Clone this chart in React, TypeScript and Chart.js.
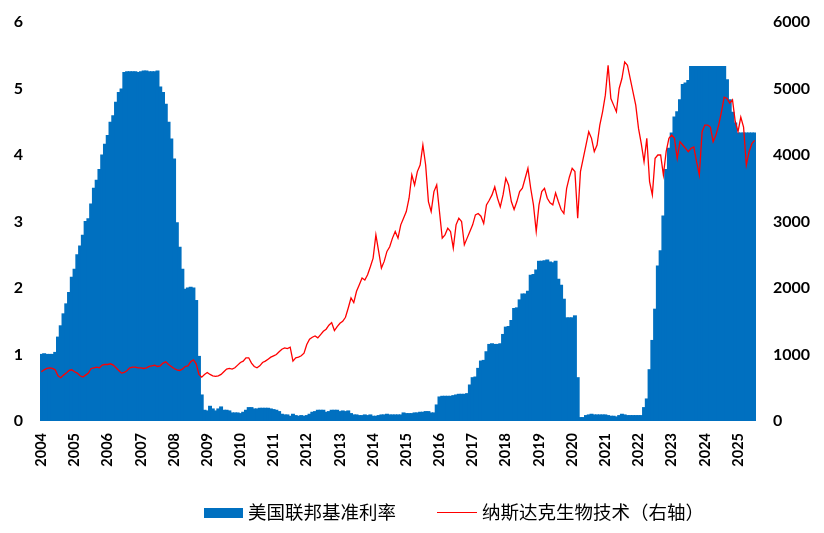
import React, { useEffect, useRef } from "react";
import { Chart, registerables } from "chart.js";

Chart.register(...registerables);

// Year tick labels (one category per month, Jan 2004 .. Jul 2025)
const yearLabels = [
  "2004", "2005", "2006", "2007", "2008", "2009", "2010", "2011", "2012", "2013", "2014",
  "2015", "2016", "2017", "2018", "2019", "2020", "2021", "2022", "2023", "2024", "2025",
];
const monthsInLastYear = 7;

// US federal funds effective rate (%), monthly
const fedFundsRate = [
  // 2004
  1.0, 1.01, 1.0, 1.0, 1.0, 1.03, 1.26, 1.43, 1.61, 1.76, 1.93, 2.16,
  // 2005
  2.28, 2.5, 2.63, 2.79, 3.0, 3.04, 3.26, 3.5, 3.62, 3.78, 4.0, 4.16,
  // 2006
  4.29, 4.49, 4.59, 4.79, 4.94, 4.99, 5.24, 5.25, 5.25, 5.25, 5.25, 5.24,
  // 2007
  5.25, 5.26, 5.26, 5.25, 5.25, 5.25, 5.26, 5.02, 4.94, 4.76, 4.49, 4.24,
  // 2008
  3.94, 2.98, 2.61, 2.28, 1.98, 2.0, 2.01, 2.0, 1.81, 0.97, 0.39, 0.16,
  // 2009
  0.15, 0.22, 0.18, 0.15, 0.18, 0.21, 0.16, 0.16, 0.15, 0.12, 0.12, 0.12,
  // 2010
  0.11, 0.13, 0.16, 0.2, 0.2, 0.18, 0.18, 0.19, 0.19, 0.19, 0.19, 0.18,
  // 2011
  0.17, 0.16, 0.14, 0.1, 0.09, 0.09, 0.07, 0.1, 0.08, 0.07, 0.08, 0.07,
  // 2012
  0.08, 0.1, 0.13, 0.14, 0.16, 0.16, 0.16, 0.13, 0.14, 0.16, 0.16, 0.16,
  // 2013
  0.14, 0.15, 0.14, 0.15, 0.11, 0.09, 0.09, 0.08, 0.08, 0.09, 0.08, 0.09,
  // 2014
  0.07, 0.07, 0.08, 0.09, 0.09, 0.1, 0.09, 0.09, 0.09, 0.09, 0.09, 0.12,
  // 2015
  0.11, 0.11, 0.11, 0.12, 0.12, 0.13, 0.13, 0.14, 0.14, 0.12, 0.12, 0.24,
  // 2016
  0.36, 0.37, 0.37, 0.37, 0.37, 0.38, 0.39, 0.4, 0.4, 0.4, 0.41, 0.54,
  // 2017
  0.65, 0.66, 0.79, 0.9, 0.91, 1.04, 1.15, 1.16, 1.15, 1.15, 1.16, 1.3,
  // 2018
  1.41, 1.42, 1.51, 1.69, 1.7, 1.82, 1.91, 1.91, 1.95, 2.19, 2.2, 2.27,
  // 2019
  2.4, 2.4, 2.41, 2.42, 2.39, 2.38, 2.4, 2.13, 2.04, 1.83, 1.55, 1.55,
  // 2020
  1.55, 1.58, 0.65, 0.05, 0.05, 0.08, 0.09, 0.1, 0.09, 0.09, 0.09, 0.09,
  // 2021
  0.09, 0.08, 0.07, 0.07, 0.06, 0.08, 0.1, 0.09, 0.08, 0.08, 0.08, 0.08,
  // 2022
  0.08, 0.08, 0.2, 0.33, 0.77, 1.21, 1.68, 2.33, 2.56, 3.08, 3.78, 4.1,
  // 2023
  4.33, 4.57, 4.65, 4.83, 5.06, 5.08, 5.12, 5.33, 5.33, 5.33, 5.33, 5.33,
  // 2024
  5.33, 5.33, 5.33, 5.33, 5.33, 5.33, 5.33, 5.33, 5.13, 4.83, 4.64, 4.48,
  // 2025
  4.33, 4.33, 4.33, 4.33, 4.33, 4.33, 4.33,
];

// NASDAQ Biotechnology index, monthly
const nasdaqBiotech = [
  // 2004
  740, 770, 790, 800, 790, 770, 680, 650, 690, 720, 760, 770,
  // 2005
  740, 720, 680, 660, 690, 720, 790, 800, 810, 800, 840, 850,
  // 2006
  850, 860, 840, 800, 760, 720, 730, 760, 800, 810, 810, 800,
  // 2007
  800, 790, 800, 820, 830, 840, 820, 830, 870, 890, 850, 820,
  // 2008
  790, 770, 760, 780, 820, 830, 890, 920, 860, 700, 660, 700,
  // 2009
  730, 700, 680, 670, 680, 700, 740, 780, 790, 780, 800, 840,
  // 2010
  880, 900, 950, 950, 870, 820, 800, 830, 880, 900, 930, 960,
  // 2011
  980, 1000, 1040, 1080, 1100, 1090, 1110, 900, 950, 960, 980, 1020,
  // 2012
  1150, 1230, 1260, 1280, 1250, 1300, 1350, 1380, 1440, 1480, 1360, 1420,
  // 2013
  1470, 1500, 1560, 1700, 1850, 1780, 1950, 2050, 2150, 2120, 2200, 2320,
  // 2014
  2450, 2800, 2550, 2300, 2400, 2550, 2620, 2750, 2850, 2750, 2950, 3050,
  // 2015
  3150, 3350, 3700, 3550, 3750, 3850, 4150, 3850, 3300, 3150, 3450, 3550,
  // 2016
  3150, 2750, 2800, 2900, 2850, 2600, 2950, 3050, 3000, 2650, 2750, 2850,
  // 2017
  2950, 3100, 3120, 3080, 2970, 3250, 3320, 3400, 3520, 3350, 3220, 3400,
  // 2018
  3650, 3550, 3300, 3180, 3300, 3450, 3500, 3650, 3800, 3500, 3250, 2850,
  // 2019
  3250, 3450, 3500, 3350, 3280, 3250, 3430, 3300, 3180, 3120, 3500, 3670,
  // 2020
  3800, 3750, 3050, 3750, 3950, 4150, 4350, 4250, 4050, 4150, 4450, 4650,
  // 2021
  4900, 5350, 4850, 4750, 4650, 5000, 5150, 5400, 5350, 5150, 4950, 4750,
  // 2022
  4400, 4170, 3900, 4250, 3600, 3400, 3950, 4000, 4000, 3700, 4050, 4250,
  // 2023
  4300, 4250, 3950, 4200, 4150, 4100, 4050, 4100, 4120, 3900, 3700, 4350,
  // 2024
  4450, 4450, 4420, 4200, 4300, 4450, 4650, 4870, 4850, 4780, 4830, 4500,
  // 2025
  4350, 4570, 4420, 3850, 4050, 4170, 4220,
];

const rateLabel = "美国联邦基准利率";
const biotechLabel = "纳斯达克生物技术（右轴）";

const monthLabels: string[] = [];
yearLabels.forEach((y, yi) => {
  const n = yi === yearLabels.length - 1 ? monthsInLastYear : 12;
  for (let m = 1; m <= n; m++) monthLabels.push(`${y}-${m < 10 ? "0" + m : m}`);
});

const BLUE = "#0070C0";
const RED = "#FF0000";
const tickFont = { family: "Lato, 'Open Sans', sans-serif", size: 16, weight: "bold" as const };

const fitY = (w: number) => (s: any) => {
  s.width = w;
  s.paddingTop = 0;
  s.paddingBottom = 0;
};

export default function App() {
  const canvasRef = useRef<HTMLCanvasElement | null>(null);

  useEffect(() => {
    if (!canvasRef.current) return;
    const chart = new Chart(canvasRef.current, {
      type: "bar",
      data: {
        labels: monthLabels,
        datasets: [
          {
            type: "line",
            label: biotechLabel,
            data: nasdaqBiotech,
            borderColor: RED,
            backgroundColor: RED,
            borderWidth: 1.3,
            pointRadius: 0,
            tension: 0,
            yAxisID: "y1",
            order: 1,
          },
          {
            type: "bar",
            label: rateLabel,
            data: fedFundsRate,
            backgroundColor: BLUE,
            borderWidth: 0,
            barPercentage: 1,
            categoryPercentage: 1,
            inflateAmount: 0.6,
            yAxisID: "y",
            order: 2,
          } as any,
        ],
      },
      options: {
        responsive: false,
        animation: false,
        devicePixelRatio: 1,
        layout: { padding: { top: 22, left: 0, right: 0, bottom: 0 } },
        plugins: {
          legend: { display: false },
          tooltip: { enabled: false },
        },
        scales: {
          x: {
            type: "category",
            offset: true,
            grid: { display: false, drawTicks: false },
            border: { display: false },
            ticks: {
              autoSkip: false,
              maxRotation: 90,
              minRotation: 90,
              padding: 12,
              color: "#000",
              font: { ...tickFont, size: 14.5 },
              callback: (_v: any, i: number) => {
                const lab = monthLabels[i];
                return lab.endsWith("-01") ? lab.slice(0, 4) : "";
              },
            },
            afterFit: (s: any) => {
              s.height = 112;
            },
          },
          y: {
            position: "left",
            min: 0,
            max: 6,
            grid: { display: false, drawTicks: false },
            border: { display: false },
            ticks: {
              stepSize: 1,
              padding: 17,
              color: "#000",
              font: tickFont,
              callback: (v: any) => String(v),
            },
            afterFit: fitY(40),
          },
          y1: {
            position: "right",
            min: 0,
            max: 6000,
            grid: { display: false, drawTicks: false },
            border: { display: false },
            ticks: {
              stepSize: 1000,
              padding: 17,
              color: "#000",
              font: tickFont,
              callback: (v: any) => String(v),
            },
            afterFit: fitY(68),
          },
        },
      },
    });
    return () => chart.destroy();
  }, []);

  const legendFont = "'Noto Sans CJK SC', sans-serif";
  return (
    <div style={{ position: "absolute", left: 0, top: 0, width: 824, height: 533, background: "#fff" }}>
      <canvas ref={canvasRef} width={824} height={533} style={{ display: "block" }} />
      <div style={{ position: "absolute", left: 204, top: 508, width: 39, height: 10, background: BLUE }} />
      <div
        style={{
          position: "absolute", left: 248, top: 498, height: 26, lineHeight: "26px",
          fontFamily: legendFont, fontSize: 18.5, color: "#000", whiteSpace: "nowrap",
        }}
      >
        {rateLabel}
      </div>
      <div style={{ position: "absolute", left: 437, top: 512, width: 40, height: 1.3, background: RED }} />
      <div
        style={{
          position: "absolute", left: 482, top: 498, height: 26, lineHeight: "26px",
          fontFamily: legendFont, fontSize: 18.5, color: "#000", whiteSpace: "nowrap",
        }}
      >
        {biotechLabel}
      </div>
    </div>
  );
}
